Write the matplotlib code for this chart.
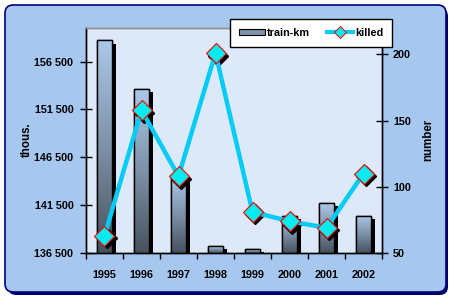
import numpy as np
import matplotlib
matplotlib.use("Agg")
import matplotlib.pyplot as plt
from matplotlib.patches import FancyBboxPatch, Rectangle
from matplotlib.lines import Line2D
from matplotlib.colors import LinearSegmentedColormap
import matplotlib.transforms as mtransforms
import matplotlib.patheffects as pe
from matplotlib.ticker import FixedLocator, FuncFormatter

years = ["1995", "1996", "1997", "1998", "1999", "2000", "2001", "2002"]
train_km = [158700, 153600, 144500, 137200, 136900, 140400, 141700, 140400]
killed = [63, 158, 108, 201, 81, 74, 69, 110]
left_ticks = [136500, 141500, 146500, 151500, 156500]
right_ticks = [50, 100, 150, 200]

plt.rcParams['font.family'] = ['Liberation Sans', 'DejaVu Sans']
plt.rcParams['font.weight'] = 'bold'
FS = 7.8

W, H = 456, 301
fig = plt.figure(figsize=(W / 100, H / 100), dpi=100, facecolor='white')

def fx(px):
    return px / W
def fy(py):
    return 1 - py / H

shadow = FancyBboxPatch((fx(8), fy(295)), fx(448 - 8), (295 - 8) / H,
                        boxstyle="round,pad=0,rounding_size=0.018",
                        transform=fig.transFigure, facecolor='#000060',
                        edgecolor='none', zorder=-3, mutation_aspect=W / H)
fig.patches.append(shadow)
frame = FancyBboxPatch((fx(5), fy(292)), fx(446 - 5), (292 - 5) / H,
                       boxstyle="round,pad=0,rounding_size=0.018",
                       transform=fig.transFigure, facecolor='#a6c8ef',
                       edgecolor='#000080', linewidth=1.2, zorder=-2,
                       mutation_aspect=W / H)
fig.patches.append(frame)

ax = fig.add_axes([fx(86), fy(253), fx(382 - 86), (253 - 28) / H])
ax.set_facecolor('#dde9f8')
ax2 = ax.twinx()

x = np.arange(len(years))

bw = 0.43
cmap = LinearSegmentedColormap.from_list('bar', ['#46515d', '#7d91a8', '#abc8e8'])
bars = ax.bar(x, train_km, width=bw, bottom=0, color='#7f93aa',
              edgecolor='black', linewidth=1.0, zorder=2,
              path_effects=[pe.SimplePatchShadow(offset=(2.2, -2.2), shadow_rgbFace='black', alpha=1.0), pe.Normal()])
grad = np.linspace(0, 1, 256).reshape(-1, 1)
for b in bars:
    x0 = b.get_x()
    x1 = x0 + b.get_width()
    y1 = b.get_height()
    im = ax.imshow(grad, extent=[x0, x1, 136500, y1], origin='lower',
                   aspect='auto', cmap=cmap, zorder=2.1, interpolation='bilinear')
    im.set_clip_path(b)
ax.bar(x, train_km, width=bw, bottom=0, facecolor='none',
       edgecolor='black', linewidth=1.0, zorder=2.2)
ax.set_xlim(-0.5, len(years) - 0.5)
ax.set_ylim(136500, 160000)
ax2.set_ylim(50, 220)

off = mtransforms.offset_copy(ax2.transData, fig=fig, x=2.5, y=-2.5, units='dots')
ax2.plot(x, killed, linestyle='none', marker='D', markersize=10,
         markerfacecolor='black', markeredgecolor='black', transform=off, zorder=3)
ax2.plot(x, killed, color='#00ccf5', linewidth=3.2, zorder=4)
ax2.plot(x, killed, linestyle='none', marker='D', markersize=10,
         markerfacecolor='#00eef0', markeredgecolor='red', markeredgewidth=0.8, zorder=5)

for a in (ax, ax2):
    a.spines['top'].set_color('#909090')
    a.spines['top'].set_linewidth(1.0)
    for s in ('left', 'right', 'bottom'):
        a.spines[s].set_color('black')
        a.spines[s].set_linewidth(1.0)

fmt = FuncFormatter(lambda v, p: f"{int(v):,}".replace(",", " "))
ax.yaxis.set_major_locator(FixedLocator(left_ticks))
ax.yaxis.set_major_formatter(fmt)
ax.tick_params(axis='y', direction='inout', length=8, width=1, pad=5,
               labelsize=FS, colors='black')
ax2.yaxis.set_major_locator(FixedLocator(right_ticks))
ax2.tick_params(axis='y', direction='inout', length=8, width=1, pad=4,
                labelsize=FS, colors='black')

ax.set_xticks(x)
ax.set_xticklabels(years)
ax.set_xticks(np.arange(-0.5, len(years)), minor=True)
ax.tick_params(axis='x', which='major', length=0, pad=12, labelsize=FS)
ax.tick_params(axis='x', which='minor', direction='out', length=4, width=1)
ax2.tick_params(axis='x', length=0)

for lab in ax.get_yticklabels() + ax2.get_yticklabels() + ax.get_xticklabels():
    lab.set_fontweight('bold')

fig.text(fx(27), fy(140), "thous.", rotation=90, ha='center', va='center',
         fontsize=FS + 0.5, fontweight='bold')
fig.text(fx(428), fy(140), "number", rotation=90, ha='center', va='center',
         fontsize=FS + 0.5, fontweight='bold')

h1 = Rectangle((0, 0), 1, 1, facecolor='#7f93aa', edgecolor='black', linewidth=0.8)
h2 = Line2D([], [], color='#00ccf5', linewidth=3, marker='D', markersize=6,
            markerfacecolor='#00eef0', markeredgecolor='red', markeredgewidth=0.7)
leg = ax2.legend([h1, h2], ["train-km", "killed"], ncol=2,
                 bbox_to_anchor=(fx(230), fy(49), fx(392 - 230), (49 - 17) / H),
                 bbox_transform=fig.transFigure, loc='center', mode='expand',
                 fancybox=False, framealpha=1, edgecolor='black',
                 prop={'size': FS, 'weight': 'bold'}, handlelength=2.4,
                 handleheight=0.55, handletextpad=0.2, columnspacing=0.8,
                 borderaxespad=0, borderpad=0.8)
leg.get_frame().set_linewidth(1.0)
leg.set_zorder(10)

fig.savefig("out.png", dpi=100, facecolor='white')
